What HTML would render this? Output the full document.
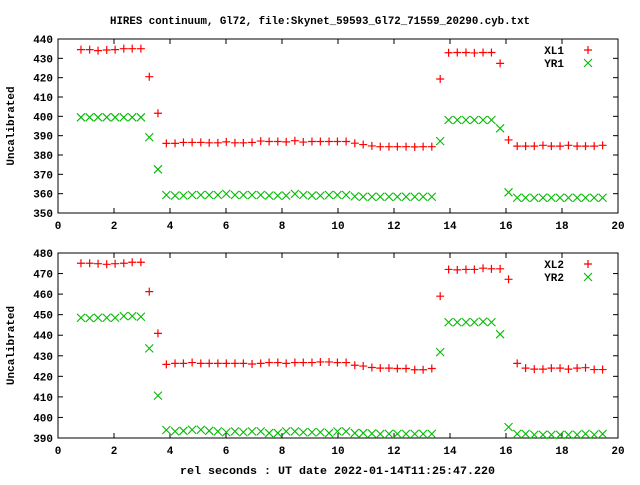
<!DOCTYPE html>
<html><head><meta charset="utf-8"><style>
html,body{margin:0;padding:0;background:#fff;}
svg text{font-family:"Liberation Mono","DejaVu Sans Mono",monospace;font-weight:bold;font-size:11px;fill:#000;}
</style></head><body>
<svg id="chart" width="640" height="480" viewBox="0 0 640 480" xmlns="http://www.w3.org/2000/svg">
<rect width="640" height="480" fill="#fff"/>
<text x="110" y="24" textLength="420" lengthAdjust="spacingAndGlyphs">HIRES continuum, Gl72, file:Skynet_59593_Gl72_71559_20290.cyb.txt</text>
<text x="180" y="474" textLength="315" lengthAdjust="spacingAndGlyphs">rel seconds : UT date 2022-01-14T11:25:47.220</text>
<g id="p1"></g>
<g id="p2"></g>
</svg>
<script>
const times = [0.82,1.13,1.43,1.74,2.04,2.35,2.65,2.96,3.26,3.57,3.87,4.18,4.48,4.79,5.10,5.40,5.71,6.01,6.32,6.62,6.93,7.24,7.54,7.85,8.15,8.46,8.76,9.07,9.37,9.68,9.98,10.29,10.60,10.90,11.21,11.51,11.82,12.12,12.43,12.74,13.04,13.35,13.65,13.95,14.26,14.57,14.87,15.18,15.48,15.79,16.09,16.40,16.70,17.01,17.32,17.62,17.93,18.23,18.54,18.84,19.15,19.45];
const xl1 = [434.5,434.5,434,434.3,434.5,435,435,435,420.5,401.6,386,386,386.5,386.5,386.5,386.3,386.3,386.8,386.3,386.3,386.5,387.2,387,387,386.8,387.4,386.7,387,387,387,387,387,386.1,385.4,384.7,384.3,384.3,384.3,384.3,384.2,384.3,384.3,419.3,432.9,433,433,432.8,433,433,427.4,387.8,384.6,384.6,384.6,385,384.6,384.6,385,384.6,384.6,384.6,385];
const yr1 = [399.5,399.5,399.5,399.5,399.5,399.5,399.5,399.5,389.2,372.6,359.3,359,359,359.3,359.3,359.3,359.3,359.9,359.3,359.3,359.3,359.3,359,359,359,359.9,359.3,359,359,359.3,359.3,359.3,358.6,358.4,358.4,358.4,358.4,358.4,358.4,358.4,358.4,358.4,387.2,398.1,398.1,398.1,398.1,398.1,398.1,393.8,360.7,357.9,357.9,357.9,357.9,357.9,357.9,357.9,357.9,357.9,357.9,357.9];
const xl2 = [475,475,474.8,474.5,474.8,475,475.5,475.5,461.2,440.9,425.8,426.3,426.3,426.7,426.3,426.3,426.3,426.3,426.3,426.3,426,426.3,426.7,426.7,426.3,426.7,426.7,426.7,427,427,426.7,426.7,425.4,425,424.3,424,424,423.8,423.8,423.2,423.2,423.8,459,472,471.8,472,472,472.6,472.3,472.3,467.2,426.3,424,423.5,423.5,424,424,423.5,424,424.2,423.3,423.3,423.3];
const yr2 = [448.5,448.3,448.5,448.5,448.5,449.3,449.3,449,433.6,410.6,393.9,393.2,393.5,394,394,393.5,393.2,392.8,393.2,392.8,393.2,393.2,392.4,392.4,393.2,393.2,392.8,392.8,392.8,392.4,393.2,393.2,392.4,392.4,392.2,392,392,392,392,392,392,392,431.8,446.3,446.3,446.3,446.3,446.6,446.3,440.5,395.3,392,392,391.6,391.6,391.6,391.6,391.6,391.6,392,391.6,392];
const xTicks = [0,2,4,6,8,10,12,14,16,18,20];
const yTicks1 = [350,360,370,380,390,400,410,420,430,440];
const yTicks2 = [390,400,410,420,430,440,450,460,470,480];
const NS='http://www.w3.org/2000/svg';
function mk(parent,tag,attrs){const e=document.createElementNS(NS,tag);for(const k in attrs)e.setAttribute(k,attrs[k]);parent.appendChild(e);return e;}
function panel(g,top,bottom,ymin,ymax,yTicks,sA,sB,nA,nB,pre){
  const L=58,R=618;
  const xs=v=>L+(v-0)/(20-0)*(R-L);
  const ys=v=>bottom-(v-ymin)/(ymax-ymin)*(bottom-top);
  const frame=mk(g,'rect',{x:L,y:top,width:R-L,height:bottom-top,fill:'none',stroke:'#000','stroke-width':1});
  
  
  xTicks.forEach(t=>{const x=xs(t);
    mk(g,'line',{x1:x,y1:bottom,x2:x,y2:bottom-5,stroke:'#000'});
    mk(g,'line',{x1:x,y1:top,x2:x,y2:top+5,stroke:'#000'});
    const tx=mk(g,'text',{x:x,y:bottom+16,'text-anchor':'middle'});tx.textContent=t;
    
    
  });
  yTicks.forEach(t=>{const y=ys(t);
    mk(g,'line',{x1:L,y1:y,x2:L+5,y2:y,stroke:'#000'});
    mk(g,'line',{x1:R,y1:y,x2:R-5,y2:y,stroke:'#000'});
    const tx=mk(g,'text',{x:53,y:y+4,'text-anchor':'end'});tx.textContent=t;
    
    
  });
  const cy=(top+bottom)/2;
  const yl=mk(g,'text',{x:14,y:cy,'text-anchor':'middle',transform:'rotate(-90 14 '+cy+')'});yl.textContent='Uncalibrated';
  
  
  function plus(x,y,par){return mk(par,'path',{d:`M${x-4},${y}H${x+4}M${x},${y-4}V${y+4}`,stroke:'#f00','stroke-width':1.2,fill:'none'});}
  function cross(x,y,par){return mk(par,'path',{d:`M${x-4},${y-4}L${x+4},${y+4}M${x-4},${y+4}L${x+4},${y-4}`,stroke:'#0b0','stroke-width':1.1,fill:'none'});}
  times.forEach((t,i)=>{
    const a=plus(xs(t),ys(sA[i]),g);
    
    
    const b=cross(xs(t),ys(sB[i]),g);
    
    
  });
  const l1=mk(g,'text',{x:564,y:top+15,'text-anchor':'end'});l1.textContent=nA;
  
  
  plus(588,top+11,g);
  const l2=mk(g,'text',{x:564,y:top+28,'text-anchor':'end'});l2.textContent=nB;
  
  
  cross(588,top+24,g);
}
panel(document.getElementById('p1'),39,213,350,440,yTicks1,xl1,yr1,'XL1','YR1','top');
panel(document.getElementById('p2'),253,438,390,480,yTicks2,xl2,yr2,'XL2','YR2','bottom');
</script>
</body></html>
